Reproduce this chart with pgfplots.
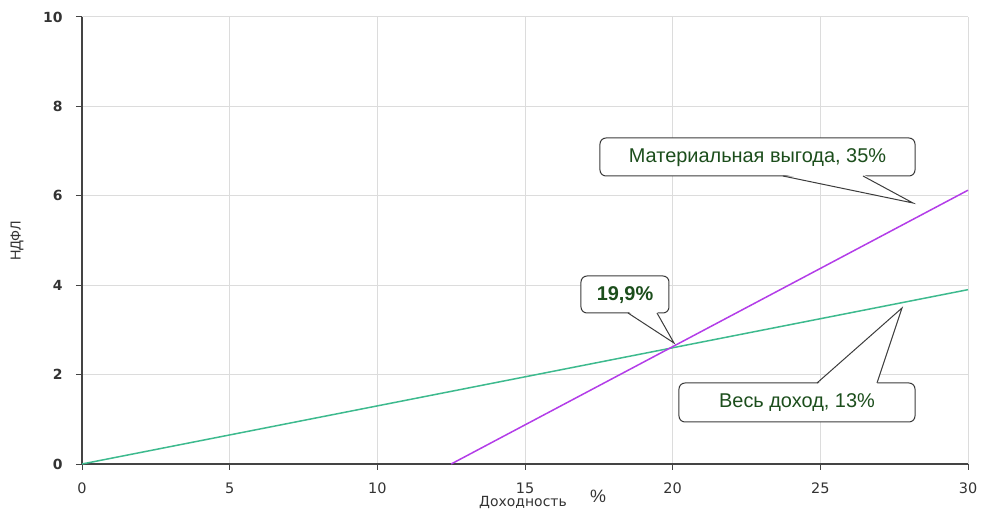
\documentclass[border=0pt]{standalone}
\usepackage{fontspec}
\setmainfont{Liberation Sans}
\newfontfamily\dejavu{DejaVu Sans}
\usepackage{pgfplots}
\pgfplotsset{compat=1.18}

\definecolor{incgreen}{RGB}{61,186,142}
\definecolor{matpurple}{RGB}{179,61,232}
\definecolor{gridgray}{RGB}{220,220,220}
\definecolor{axisgray}{RGB}{68,68,68}
\definecolor{labelgray}{RGB}{51,51,51}
\definecolor{textgreen}{RGB}{28,78,28}
\definecolor{boxborder}{RGB}{60,60,60}

\begin{document}
\begin{tikzpicture}
\useasboundingbox (-82bp,-46bp) rectangle (899bp,464bp);
\begin{axis}[
  scale only axis,
  width=886bp, height=447bp,
  xmin=0, xmax=30, ymin=0, ymax=10,
  axis x line=bottom, axis y line=left,
  axis line style={-, axisgray, line width=1.5bp},
  xtick={0,5,...,30}, ytick={0,2,...,10},
  grid=major,
  major grid style={gridgray, line width=1bp},
  tick align=outside,
  major tick length=6bp,
  tick style={axisgray, line width=1bp},
  /pgf/number format/assume math mode=true,
  xticklabel style={font=\dejavu\fontsize{14.5}{16}\selectfont, text=labelgray, yshift=-9bp},
  yticklabel style={font=\dejavu\bfseries\fontsize{14}{16}\selectfont, text=labelgray, xshift=-10bp},
  clip=false,
]
  % income tax on the whole yield: 13%
  \addplot[incgreen, line width=1.5bp] coordinates {(0,0) (30,3.9)};
  % tax on material benefit: 35% above 12.5%
  \addplot[matpurple, line width=1.5bp] coordinates {(12.5,0) (30,6.125)};
\end{axis}

\begin{scope}[shift={(-82bp,464bp)}, x=1bp, y=-1bp]
  % axis titles
  \node[font=\dejavu\fontsize{14}{16}\selectfont, text=labelgray] at (523,503) {Доходность};
  \node[font=\fontsize{18}{20}\selectfont, text=labelgray] at (598,496) {\%};
  \node[font=\fontsize{14.5}{16}\selectfont, text=labelgray, rotate=90] at (17,241) {НДФЛ};

  % callout: material benefit
  \draw[boxborder, line width=1bp, fill=white, rounded corners=6bp] (600,138) rectangle (915,176);
  \fill[white] (783,174.3) -- (913,203) -- (863,174.3) -- cycle;
  \draw[boxborder, line width=1bp] (783,176) -- (913,203) -- (863,176);
  \node[text=textgreen, font=\fontsize{20}{22}\selectfont] at (757.5,157.5) {Материальная выгода, 35\%};

  % callout: break-even point
  \draw[boxborder, line width=1bp, fill=white, rounded corners=6bp] (581,276) rectangle (669,313);
  \fill[white] (628,311.3) -- (674,343) -- (657,311.3) -- cycle;
  \draw[boxborder, line width=1bp] (628,313) -- (674,343) -- (657,313);
  \node[text=textgreen, font=\bfseries\fontsize{20}{22}\selectfont] at (625,295) {19,9\%};

  % callout: whole income
  \draw[boxborder, line width=1bp, fill=white, rounded corners=6bp] (679,383) rectangle (915,422);
  \fill[white] (817,384.7) -- (902,308) -- (877,384.7) -- cycle;
  \draw[boxborder, line width=1bp] (817,383) -- (902,308) -- (877,383);
  \node[text=textgreen, font=\fontsize{20}{22}\selectfont] at (797,403) {Весь доход, 13\%};
\end{scope}
\end{tikzpicture}
\end{document}
